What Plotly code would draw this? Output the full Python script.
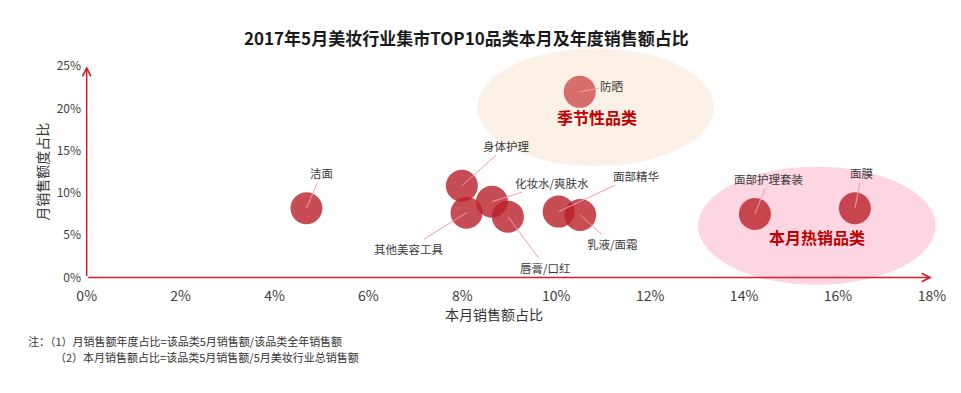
import plotly.graph_objects as go

# ---- data ----
categories = ["洁面", "身体护理", "其他美容工具", "化妆水/爽肤水", "唇膏/口红",
              "面部精华", "乳液/面霜", "防晒", "面部护理套装", "面膜"]
month_share = [0.0468, 0.0799, 0.0809, 0.0863, 0.0897, 0.1005, 0.1051, 0.1050, 0.1423, 0.1636]
annual_share = [0.082, 0.1086, 0.0767, 0.0897, 0.0720, 0.078, 0.074, 0.2196, 0.0752, 0.082]
x_ticks = [0, 0.02, 0.04, 0.06, 0.08, 0.10, 0.12, 0.14, 0.16, 0.18]
y_ticks = [0, 0.05, 0.10, 0.15, 0.20, 0.25]
title_text = "2017年5月美妆行业集市TOP10品类本月及年度销售额占比"
x_title = "本月销售额占比"
y_title = "月销售额度占比"
group_labels = ["季节性品类", "本月热销品类"]
notes = ["注：（1）月销售额年度占比=该品类5月销售额/该品类全年销售额",
         "（2）本月销售额占比=该品类5月销售额/5月美妆行业总销售额"]

# ---- styling / label placement (pixel offsets) ----
label_offsets = {
    "洁面": (15, -35), "身体护理": (45, -40), "其他美容工具": (-58, 36),
    "化妆水/爽肤水": (60, -19), "唇膏/口红": (38, 51), "面部精华": (77, -36),
    "乳液/面霜": (32, 29), "防晒": (32, -6), "面部护理套装": (14, -35), "面膜": (7, -35),
}
FONT = "Noto Sans CJK SC, Noto Sans, sans-serif"
RED = "#D21F2B"
LEADER = "#F29AAE"
bubble_colors = ["rgba(185,32,42,0.80)"] * len(categories)
bubble_colors[categories.index("防晒")] = "rgba(200,60,60,0.72)"

# page body adds an 8px offset at top/left; compensate
OFF = 8
W, H = 961 - OFF, 393 - OFF
L, R, T, B = 82.3 - OFF, 15, 44.8 - OFF, 106.8
pw, ph = W - L - R, H - T - B

fig = go.Figure()

# decorative ellipses (axis coordinates)
fig.add_shape(type="circle", xref="x", yref="y", x0=0.0832, x1=0.1336, y0=0.1319, y1=0.2709,
              fillcolor="#FBF0E5", line=dict(width=0), layer="below")
fig.add_shape(type="circle", xref="x", yref="y", x0=0.1302, x1=0.1808, y0=-0.0086, y1=0.1311,
              fillcolor="#FED5E2", line=dict(width=0), layer="below")

fig.add_trace(go.Scatter(
    x=month_share, y=annual_share, mode="markers",
    marker=dict(size=32, color=bubble_colors, line=dict(width=0)),
    text=categories, hoverinfo="text", showlegend=False, cliponaxis=False,
))

annotations = []
for name, xv, yv in zip(categories, month_share, annual_share):
    ax, ay = label_offsets[name]
    annotations.append(dict(
        x=xv, y=yv, xref="x", yref="y", text=name, showarrow=True,
        arrowhead=0, arrowwidth=1, arrowcolor=LEADER, ax=ax, ay=ay, standoff=0,
        font=dict(family=FONT, size=11.5, color="#3a3a3a"),
    ))

# group labels
annotations.append(dict(x=0.1086, y=0.190, xref="x", yref="y", text="<b>%s</b>" % group_labels[0],
                        showarrow=False, font=dict(family=FONT, size=16, color="#C00000")))
annotations.append(dict(x=0.1555, y=0.0484, xref="x", yref="y", text="<b>%s</b>" % group_labels[1],
                        showarrow=False, font=dict(family=FONT, size=16, color="#C00000")))

# axis lines with arrowheads
annotations.append(dict(x=x_ticks[-1], y=0, ax=0, ay=0, xref="x", yref="y", axref="x", ayref="y",
                        text="", showarrow=True, arrowhead=5, arrowsize=1.1, arrowwidth=1.5,
                        arrowcolor=RED, standoff=0))
annotations.append(dict(x=0, y=y_ticks[-1], ax=0, ay=0, xref="x", yref="y", axref="x", ayref="y",
                        text="", showarrow=True, arrowhead=5, arrowsize=1.1, arrowwidth=1.5,
                        arrowcolor=RED, standoff=0))

# title, axis titles, notes: placed by target page pixel position
pix_texts = [
    dict(px=467, py=37, text="<b>%s</b>" % title_text, xanchor="center", angle=0, size=17, color="#1a1a1a"),
    dict(px=443, py=314, text=x_title, xanchor="left", angle=0, size=14, color="#333333"),
    dict(px=42, py=172, text=y_title, xanchor="center", angle=-90, size=14, color="#333333"),
    dict(px=26, py=341, text=notes[0], xanchor="left", angle=0, size=11, color="#333333"),
    dict(px=53, py=357, text=notes[1], xanchor="left", angle=0, size=11, color="#333333"),
]
for t in pix_texts:
    annotations.append(dict(
        x=(t["px"] - OFF - L) / pw, y=(H - B - (t["py"] - OFF)) / ph,
        xref="paper", yref="paper", text=t["text"], showarrow=False,
        xanchor=t["xanchor"], yanchor="middle", textangle=t["angle"],
        font=dict(family=FONT, size=t["size"], color=t["color"]),
    ))

fig.update_layout(
    width=W, height=H,
    margin=dict(l=L, r=R, t=T, b=B, autoexpand=False),
    paper_bgcolor="white", plot_bgcolor="white",
    annotations=annotations,
    xaxis=dict(range=[-0.001, 0.183], tickvals=x_ticks, tickformat=".0%", showgrid=False,
               zeroline=False, showline=False, ticks="", automargin=False,
               tickfont=dict(family=FONT, size=14, color="#404040")),
    yaxis=dict(range=[-0.01, 0.275], tickvals=y_ticks, tickformat=".0%", showgrid=False,
               zeroline=False, showline=False, ticks="", automargin=False,
               tickfont=dict(family=FONT, size=12, color="#404040")),
    font=dict(family=FONT),
)

fig.write_html("out.html")
